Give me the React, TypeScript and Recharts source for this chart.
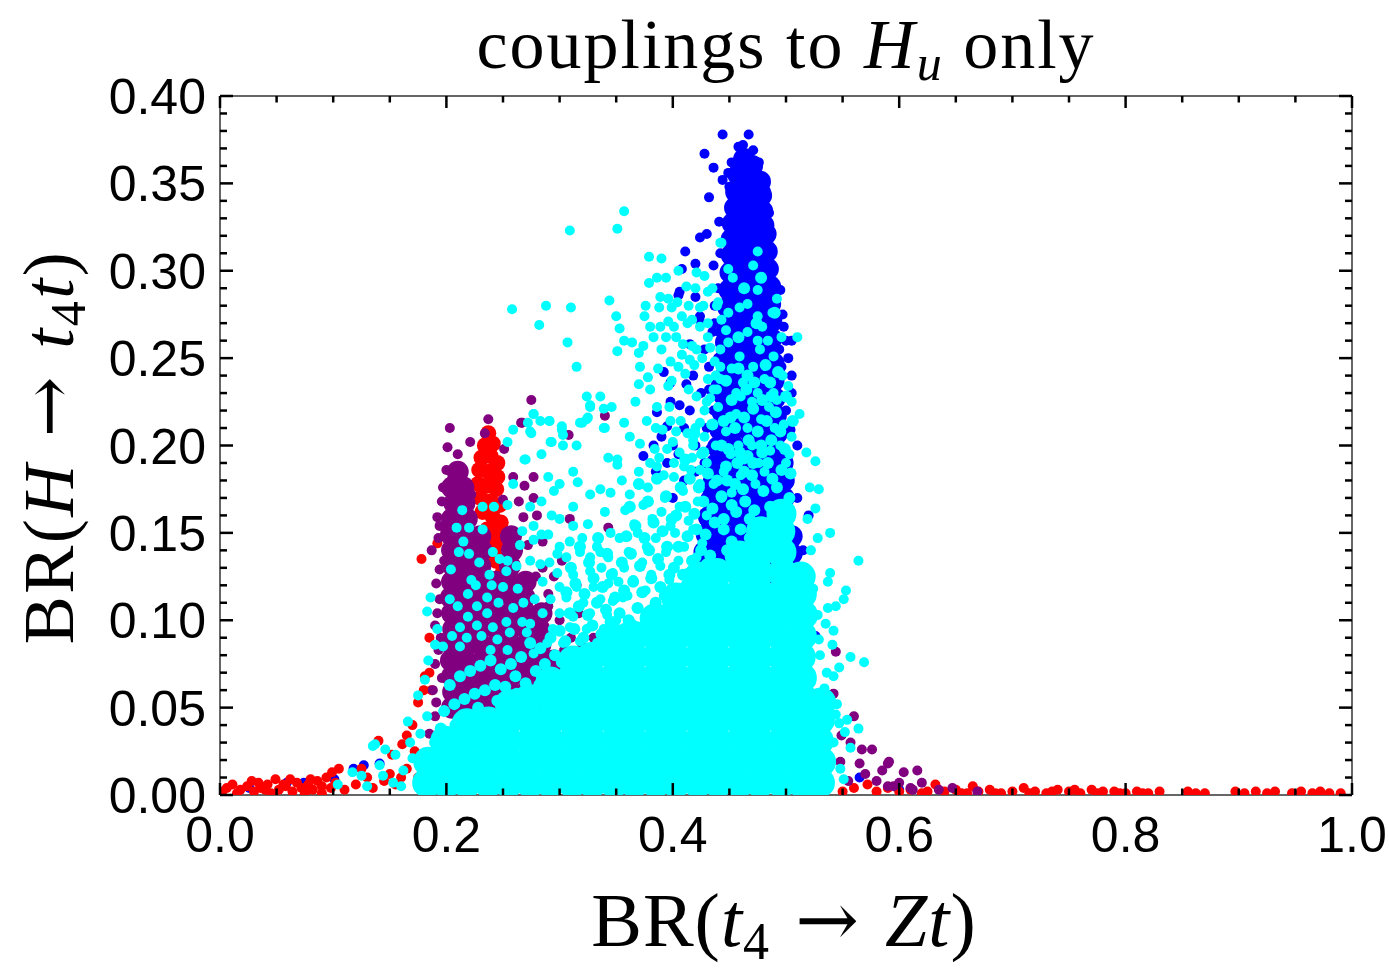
import React from 'react';
import { ScatterChart, Scatter, XAxis, YAxis } from 'recharts';

// tick values and labels
const xTicks = [0, 0.05, 0.1, 0.15, 0.2, 0.25, 0.3, 0.35, 0.4, 0.45, 0.5, 0.55, 0.6, 0.65, 0.7, 0.75, 0.8, 0.85, 0.9, 0.95, 1];
const xMajor = [0, 0.2, 0.4, 0.6, 0.8, 1];
const xLabels = ['0.0', '0.2', '0.4', '0.6', '0.8', '1.0'];
const yTicks = [
  0, 0.01, 0.02, 0.03, 0.04, 0.05, 0.06, 0.07, 0.08, 0.09, 0.1, 0.11, 0.12, 0.13, 0.14, 0.15, 0.16, 0.17, 0.18, 0.19, 0.2,
  0.21, 0.22, 0.23, 0.24, 0.25, 0.26, 0.27, 0.28, 0.29, 0.3, 0.31, 0.32, 0.33, 0.34, 0.35, 0.36, 0.37, 0.38, 0.39, 0.4,
];
const yMajor = [0, 0.05, 0.1, 0.15, 0.2, 0.25, 0.3, 0.35, 0.4];
const yLabels = ['0.00', '0.05', '0.10', '0.15', '0.20', '0.25', '0.30', '0.35', '0.40'];

// blue points: dense peak near 0.46 and scattered ones
const blueCore = [
  [0.463, 0.364], [0.47, 0.36],
  [0.458, 0.355], [0.469, 0.353], [0.477, 0.351],
  [0.456, 0.345], [0.467, 0.346], [0.478, 0.343],
  [0.455, 0.336], [0.466, 0.337], [0.479, 0.334],
  [0.453, 0.327], [0.466, 0.328], [0.48, 0.326],
  [0.452, 0.318], [0.465, 0.319], [0.478, 0.317], [0.482, 0.321],
  [0.452, 0.309], [0.465, 0.31], [0.478, 0.308], [0.483, 0.311],
  [0.451, 0.299], [0.464, 0.3], [0.477, 0.298], [0.484, 0.301],
  [0.45, 0.289], [0.463, 0.29], [0.476, 0.288], [0.486, 0.291],
  [0.449, 0.279], [0.462, 0.28], [0.475, 0.278], [0.486, 0.281],
  [0.448, 0.269], [0.461, 0.27], [0.474, 0.268], [0.487, 0.271],
  [0.447, 0.259], [0.46, 0.26], [0.473, 0.258], [0.487, 0.261],
  [0.446, 0.249], [0.459, 0.25], [0.472, 0.248], [0.485, 0.251], [0.489, 0.247],
  [0.446, 0.239], [0.459, 0.24], [0.472, 0.238], [0.485, 0.241], [0.489, 0.237],
  [0.445, 0.229], [0.458, 0.23], [0.471, 0.228], [0.484, 0.231], [0.49, 0.227],
  [0.444, 0.219], [0.457, 0.22], [0.47, 0.218], [0.483, 0.221], [0.491, 0.217],
  [0.442, 0.209], [0.455, 0.21], [0.468, 0.208], [0.481, 0.211], [0.492, 0.207],
  [0.44, 0.199], [0.453, 0.2], [0.466, 0.198], [0.479, 0.201], [0.492, 0.197],
  [0.438, 0.189], [0.451, 0.19], [0.464, 0.188], [0.477, 0.191], [0.49, 0.187], [0.497, 0.19],
  [0.436, 0.179], [0.449, 0.18], [0.462, 0.178], [0.475, 0.181], [0.488, 0.177], [0.498, 0.18],
  [0.434, 0.169], [0.447, 0.17], [0.46, 0.168], [0.473, 0.171], [0.486, 0.167], [0.498, 0.17],
  [0.432, 0.159], [0.445, 0.16], [0.458, 0.158], [0.471, 0.161], [0.484, 0.157], [0.497, 0.16],
  [0.43, 0.149], [0.443, 0.15], [0.456, 0.148], [0.469, 0.151], [0.482, 0.147], [0.495, 0.15], [0.505, 0.148],
  [0.428, 0.139], [0.441, 0.14], [0.454, 0.138], [0.467, 0.141], [0.48, 0.137], [0.493, 0.14], [0.505, 0.138],
  [0.43, 0.129], [0.445, 0.13], [0.46, 0.128], [0.475, 0.131], [0.49, 0.127], [0.505, 0.129],
];
const blueSparse = [
  [0.444, 0.378], [0.467, 0.378], [0.428, 0.367], [0.436, 0.359], [0.432, 0.342], [0.424, 0.319], [0.43, 0.321],
  [0.411, 0.311], [0.408, 0.301], [0.42, 0.304], [0.406, 0.288], [0.42, 0.285], [0.441, 0.328], [0.444, 0.352],
  [0.45, 0.348], [0.458, 0.371], [0.479, 0.353], [0.485, 0.333], [0.495, 0.289], [0.498, 0.268], [0.505, 0.24],
  [0.398, 0.236], [0.415, 0.258], [0.436, 0.303], [0.405, 0.286], [0.392, 0.242], [0.398, 0.225], [0.406, 0.223],
  [0.386, 0.219], [0.395, 0.211], [0.383, 0.2], [0.374, 0.194], [0.418, 0.24], [0.424, 0.274],
  [0.4, 0.2], [0.41, 0.21], [0.405, 0.195], [0.415, 0.22], [0.42, 0.2], [0.425, 0.23], [0.43, 0.21], [0.432, 0.245],
  [0.428, 0.255], [0.435, 0.265], [0.425, 0.27], [0.437, 0.28], [0.412, 0.235], [0.39, 0.205], [0.395, 0.19],
  [0.385, 0.185], [0.42, 0.185], [0.41, 0.18], [0.4, 0.17], [0.43, 0.175], [0.44, 0.29], [0.442, 0.31],
  [0.462, 0.372], [0.471, 0.369], [0.452, 0.362], [0.476, 0.362], [0.449, 0.356], [0.482, 0.346],
  [0.436, 0.22], [0.438, 0.235], [0.44, 0.25], [0.441, 0.265], [0.437, 0.27], [0.432, 0.232], [0.428, 0.19],
  [0.433, 0.198], [0.494, 0.255], [0.496, 0.245], [0.5, 0.26], [0.497, 0.275], [0.502, 0.25], [0.505, 0.26],
  [0.5, 0.21], [0.504, 0.209], [0.51, 0.17], [0.515, 0.14], [0.52, 0.12], [0.526, 0.091], [0.518, 0.1],
  [0.505, 0.23], [0.51, 0.2], [0.52, 0.16], [0.5, 0.22],
  [0.026, 0.004], [0.059, 0.007], [0.074, 0.007], [0.101, 0.009], [0.118, 0.015], [0.127, 0.017], [0.141, 0.018],
  [0.565, 0.01], [0.6, 0.003],
];

// red points: narrow spike near 0.24 and a strip along the bottom
const redCore = [
  [0.237, 0.207], [0.234, 0.2], [0.241, 0.201], [0.231, 0.193], [0.239, 0.194], [0.245, 0.19], [0.229, 0.186],
  [0.237, 0.185], [0.245, 0.182], [0.228, 0.178], [0.236, 0.177], [0.244, 0.175], [0.23, 0.17], [0.239, 0.168],
  [0.247, 0.166], [0.232, 0.162], [0.241, 0.159], [0.248, 0.156], [0.236, 0.152], [0.245, 0.149], [0.24, 0.143],
  [0.249, 0.141], [0.244, 0.134], [0.25, 0.128], [0.234, 0.145],
];
const redSparse = [
  [0.006, 0.004], [0.011, 0.006], [0.018, 0.003], [0.024, 0.005], [0.03, 0.002], [0.036, 0.004], [0.042, 0.006],
  [0.049, 0.009], [0.052, 0.003], [0.058, 0.005], [0.064, 0.002], [0.068, 0.007], [0.072, 0.004], [0.078, 0.006],
  [0.082, 0.003], [0.086, 0.008], [0.09, 0.005], [0.094, 0.01], [0.098, 0.004], [0.102, 0.007], [0.028, 0.008],
  [0.015, 0.001], [0.045, 0.001], [0.075, 0.001], [0.062, 0.009], [0.04, 0.003], [0.09, 0.001], [0.11, 0.003],
  [0.099, 0.013], [0.105, 0.015], [0.12, 0.006], [0.13, 0.01], [0.14, 0.031], [0.152, 0.023], [0.161, 0.029],
  [0.165, 0.034], [0.17, 0.04], [0.175, 0.053], [0.18, 0.06], [0.187, 0.06], [0.181, 0.068], [0.178, 0.135],
  [0.192, 0.144], [0.165, 0.015], [0.15, 0.012], [0.172, 0.025], [0.185, 0.07], [0.185, 0.09], [0.183, 0.02],
  [0.125, 0.015], [0.135, 0.004], [0.155, 0.006], [0.145, 0.008], [0.16, 0.01], [0.175, 0.01], [0.002, 0.002],
  [0.034, 0.007], [0.056, 0.006], [0.08, 0.009],
  [0.55, 0.002], [0.56, 0.004], [0.572, 0.006], [0.58, 0.002], [0.59, 0.004], [0.6, 0.002], [0.61, 0.003],
  [0.62, 0.001], [0.632, 0.006], [0.64, 0.002], [0.65, 0.003], [0.66, 0.001], [0.665, 0.005], [0.67, 0.002],
  [0.68, 0.003], [0.69, 0.001], [0.7, 0.002], [0.71, 0.004], [0.72, 0.002], [0.73, 0.001], [0.74, 0.003],
  [0.75, 0.002], [0.76, 0.001], [0.77, 0.003], [0.78, 0.002], [0.79, 0.002], [0.8, 0.001], [0.81, 0.002],
  [0.82, 0.001], [0.83, 0.002], [0.855, 0.002], [0.87, 0.001], [0.897, 0.002], [0.905, 0.001], [0.915, 0.002],
  [0.925, 0.001], [0.932, 0.002], [0.947, 0.001], [0.955, 0.002], [0.965, 0.001], [0.972, 0.002], [0.98, 0.001],
  [0.99, 0.001], [0.715, 0.001], [0.735, 0.002], [0.755, 0.003], [0.775, 0.001], [0.795, 0.001], [0.815, 0.001],
  [0.685, 0.001], [0.655, 0.001], [0.625, 0.002], [0.862, 0.001],
];

// purple points: peak near 0.21 and a tail past 0.55
const purpleCore = [
  [0.205, 0.05], [0.206, 0.059], [0.205, 0.068], [0.204, 0.077], [0.205, 0.086], [0.206, 0.095], [0.205, 0.104],
  [0.204, 0.113], [0.205, 0.122], [0.206, 0.131], [0.205, 0.14], [0.204, 0.149], [0.205, 0.158], [0.207, 0.167],
  [0.205, 0.176], [0.21, 0.185],
  [0.218, 0.05], [0.219, 0.059], [0.218, 0.068], [0.217, 0.077], [0.218, 0.086], [0.219, 0.095], [0.218, 0.104],
  [0.217, 0.113], [0.218, 0.122], [0.219, 0.131], [0.218, 0.14], [0.217, 0.149], [0.218, 0.158], [0.216, 0.167],
  [0.215, 0.176],
  [0.231, 0.05], [0.23, 0.059], [0.231, 0.068], [0.232, 0.077], [0.231, 0.086], [0.23, 0.095], [0.231, 0.104],
  [0.232, 0.113], [0.231, 0.122], [0.23, 0.131], [0.231, 0.14], [0.23, 0.148],
  [0.244, 0.05], [0.245, 0.059], [0.244, 0.068], [0.243, 0.077], [0.244, 0.086], [0.245, 0.095], [0.244, 0.104],
  [0.243, 0.113], [0.244, 0.122],
  [0.257, 0.05], [0.256, 0.059], [0.257, 0.068], [0.258, 0.077], [0.257, 0.086], [0.256, 0.095], [0.257, 0.104],
  [0.258, 0.113], [0.257, 0.122], [0.256, 0.131], [0.258, 0.14], [0.257, 0.148],
  [0.27, 0.05], [0.271, 0.059], [0.27, 0.068], [0.269, 0.077], [0.27, 0.086], [0.271, 0.095], [0.27, 0.104],
  [0.269, 0.113], [0.27, 0.122],
  [0.283, 0.05], [0.282, 0.059], [0.283, 0.068], [0.284, 0.077], [0.283, 0.086], [0.282, 0.095], [0.284, 0.104],
  [0.296, 0.05], [0.297, 0.059], [0.296, 0.068], [0.295, 0.077],
];
const purpleSparse = [
  [0.203, 0.21], [0.201, 0.199], [0.221, 0.202], [0.237, 0.215], [0.234, 0.207], [0.21, 0.195], [0.2, 0.186],
  [0.212, 0.186], [0.205, 0.181], [0.197, 0.176], [0.215, 0.178], [0.267, 0.213], [0.251, 0.198], [0.259, 0.182],
  [0.277, 0.182], [0.269, 0.177], [0.277, 0.17], [0.25, 0.169], [0.268, 0.159], [0.192, 0.159], [0.194, 0.154],
  [0.187, 0.14], [0.194, 0.129], [0.194, 0.112], [0.192, 0.104], [0.308, 0.206], [0.34, 0.217], [0.309, 0.158],
  [0.343, 0.153], [0.317, 0.104], [0.302, 0.134], [0.275, 0.226], [0.266, 0.213], [0.285, 0.13], [0.29, 0.115],
  [0.3, 0.1], [0.31, 0.09], [0.32, 0.085], [0.33, 0.09], [0.285, 0.145], [0.28, 0.16], [0.295, 0.125],
  [0.315, 0.12], [0.325, 0.075], [0.34, 0.07], [0.36, 0.065], [0.38, 0.08], [0.195, 0.09], [0.19, 0.075],
  [0.188, 0.06], [0.19, 0.045], [0.185, 0.035], [0.196, 0.168], [0.193, 0.147], [0.191, 0.121], [0.19, 0.097],
  [0.193, 0.083], [0.196, 0.067], [0.191, 0.053], [0.198, 0.134], [0.222, 0.172], [0.211, 0.176], [0.264, 0.168],
  [0.272, 0.143], [0.279, 0.125], [0.29, 0.108], [0.304, 0.083],
  [0.544, 0.082], [0.542, 0.058], [0.56, 0.045], [0.567, 0.026], [0.576, 0.026], [0.591, 0.019], [0.604, 0.013],
  [0.616, 0.014], [0.557, 0.03], [0.549, 0.034], [0.548, 0.019], [0.62, 0.007], [0.647, 0.004], [0.57, 0.012],
  [0.58, 0.008], [0.59, 0.005], [0.6, 0.007], [0.555, 0.008], [0.61, 0.004], [0.635, 0.003], [0.565, 0.018],
  [0.585, 0.014], [0.59, 0.018], [0.595, 0.005], [0.612, 0.003], [0.669, 0.002], [0.522, 0.05], [0.525, 0.04],
  [0.52, 0.016],
];

// cyan points: the wide dense body, the band just above it, and the scattered ones
const cyanCore = [
  [0.183, 0.007], [0.184, 0.019],
  [0.2, 0.007], [0.201, 0.019], [0.199, 0.031],
  [0.218, 0.007], [0.219, 0.019], [0.217, 0.031], [0.218, 0.041],
  [0.237, 0.007], [0.236, 0.019], [0.238, 0.031], [0.237, 0.042],
  [0.255, 0.007], [0.256, 0.019], [0.254, 0.031], [0.255, 0.043], [0.256, 0.052],
  [0.274, 0.007], [0.273, 0.019], [0.275, 0.031], [0.274, 0.043], [0.273, 0.055],
  [0.292, 0.007], [0.293, 0.019], [0.291, 0.031], [0.292, 0.043], [0.293, 0.055], [0.292, 0.065],
  [0.311, 0.007], [0.31, 0.019], [0.312, 0.031], [0.311, 0.043], [0.31, 0.055], [0.311, 0.067], [0.312, 0.077],
  [0.329, 0.007], [0.33, 0.019], [0.328, 0.031], [0.329, 0.043], [0.33, 0.055], [0.329, 0.067], [0.328, 0.079],
  [0.348, 0.007], [0.347, 0.019], [0.349, 0.031], [0.348, 0.043], [0.347, 0.055], [0.348, 0.067], [0.349, 0.079],
  [0.348, 0.089],
  [0.366, 0.007], [0.367, 0.019], [0.365, 0.031], [0.366, 0.043], [0.367, 0.055], [0.366, 0.067], [0.365, 0.079],
  [0.366, 0.091],
  [0.385, 0.007], [0.384, 0.019], [0.386, 0.031], [0.385, 0.043], [0.384, 0.055], [0.385, 0.067], [0.386, 0.079],
  [0.385, 0.091], [0.384, 0.101],
  [0.403, 0.007], [0.404, 0.019], [0.402, 0.031], [0.403, 0.043], [0.404, 0.055], [0.403, 0.067], [0.402, 0.079],
  [0.403, 0.091], [0.404, 0.103], [0.403, 0.113],
  [0.422, 0.007], [0.421, 0.019], [0.423, 0.031], [0.422, 0.043], [0.421, 0.055], [0.422, 0.067], [0.423, 0.079],
  [0.422, 0.091], [0.421, 0.103], [0.422, 0.115], [0.423, 0.125],
  [0.44, 0.007], [0.441, 0.019], [0.439, 0.031], [0.44, 0.043], [0.441, 0.055], [0.44, 0.067], [0.439, 0.079],
  [0.44, 0.091], [0.441, 0.103], [0.44, 0.115], [0.439, 0.127],
  [0.459, 0.007], [0.458, 0.019], [0.46, 0.031], [0.459, 0.043], [0.458, 0.055], [0.459, 0.067], [0.46, 0.079],
  [0.459, 0.091], [0.458, 0.103], [0.459, 0.115], [0.46, 0.127], [0.459, 0.137],
  [0.477, 0.007], [0.478, 0.019], [0.476, 0.031], [0.477, 0.043], [0.478, 0.055], [0.477, 0.067], [0.476, 0.079],
  [0.477, 0.091], [0.478, 0.103], [0.477, 0.115], [0.476, 0.127], [0.477, 0.139], [0.478, 0.151],
  [0.496, 0.007], [0.495, 0.019], [0.497, 0.031], [0.496, 0.043], [0.495, 0.055], [0.496, 0.067], [0.497, 0.079],
  [0.496, 0.091], [0.495, 0.103], [0.496, 0.115], [0.497, 0.127], [0.496, 0.139], [0.495, 0.151], [0.496, 0.161],
  [0.514, 0.007], [0.515, 0.019], [0.513, 0.031], [0.514, 0.043], [0.515, 0.055], [0.514, 0.067], [0.513, 0.079],
  [0.514, 0.091], [0.515, 0.103], [0.514, 0.115], [0.513, 0.125],
  [0.53, 0.007], [0.531, 0.019], [0.529, 0.031], [0.53, 0.043], [0.531, 0.053],
];
const cyanBand = [
  [0.198, 0.048], [0.207, 0.052], [0.216, 0.055], [0.225, 0.058], [0.234, 0.06], [0.243, 0.063], [0.203, 0.063],
  [0.212, 0.068], [0.221, 0.071], [0.23, 0.074], [0.239, 0.077], [0.248, 0.072], [0.195, 0.038], [0.19, 0.03],
  [0.208, 0.04], [0.228, 0.05], [0.245, 0.054],
  [0.252, 0.062], [0.261, 0.068], [0.27, 0.064], [0.279, 0.071], [0.287, 0.075], [0.296, 0.08], [0.257, 0.075],
  [0.266, 0.079], [0.283, 0.084], [0.292, 0.09], [0.3, 0.094], [0.274, 0.087], [0.262, 0.058], [0.282, 0.063],
  [0.305, 0.088], [0.313, 0.095], [0.321, 0.09], [0.329, 0.097], [0.337, 0.092], [0.345, 0.099], [0.309, 0.104],
  [0.317, 0.108], [0.325, 0.103], [0.333, 0.11], [0.341, 0.106], [0.349, 0.113], [0.306, 0.116], [0.314, 0.121],
  [0.322, 0.115], [0.33, 0.124], [0.338, 0.119], [0.346, 0.126], [0.31, 0.13], [0.326, 0.133], [0.342, 0.138],
  [0.318, 0.142], [0.334, 0.147], [0.302, 0.076], [0.32, 0.081], [0.338, 0.085],
  [0.353, 0.104], [0.361, 0.1], [0.369, 0.107], [0.377, 0.103], [0.385, 0.11], [0.393, 0.106], [0.357, 0.117],
  [0.365, 0.122], [0.373, 0.116], [0.381, 0.124], [0.389, 0.119], [0.397, 0.126], [0.355, 0.133], [0.363, 0.138],
  [0.371, 0.131], [0.379, 0.14], [0.387, 0.135], [0.395, 0.142], [0.359, 0.148], [0.367, 0.154], [0.375, 0.147],
  [0.383, 0.156], [0.391, 0.151], [0.399, 0.158], [0.362, 0.165], [0.378, 0.168], [0.394, 0.171], [0.37, 0.178],
  [0.386, 0.181], [0.357, 0.095], [0.375, 0.096], [0.393, 0.099],
  [0.401, 0.13], [0.409, 0.126], [0.417, 0.134], [0.425, 0.14], [0.433, 0.137], [0.405, 0.142], [0.413, 0.148],
  [0.421, 0.152], [0.429, 0.149], [0.437, 0.156], [0.445, 0.152], [0.403, 0.16], [0.411, 0.165], [0.419, 0.161],
  [0.427, 0.168], [0.435, 0.164], [0.443, 0.171], [0.407, 0.176], [0.415, 0.181], [0.423, 0.176], [0.431, 0.184],
  [0.439, 0.18], [0.447, 0.188], [0.411, 0.192], [0.427, 0.196], [0.443, 0.2], [0.419, 0.207], [0.435, 0.212],
  [0.451, 0.216], [0.412, 0.12], [0.43, 0.132], [0.448, 0.14],
  [0.452, 0.145], [0.46, 0.152], [0.468, 0.147], [0.456, 0.162], [0.464, 0.168], [0.472, 0.163], [0.48, 0.174],
  [0.488, 0.181], [0.496, 0.186], [0.504, 0.184], [0.455, 0.178], [0.463, 0.185], [0.471, 0.19], [0.479, 0.196],
  [0.487, 0.203], [0.495, 0.208], [0.459, 0.196], [0.467, 0.203], [0.475, 0.208], [0.483, 0.214], [0.491, 0.219],
  [0.455, 0.21], [0.463, 0.216], [0.471, 0.221], [0.466, 0.24], [0.482, 0.246], [0.458, 0.262], [0.474, 0.27],
  [0.49, 0.276], [0.463, 0.29], [0.478, 0.296], [0.486, 0.165], [0.503, 0.17], [0.468, 0.158], [0.487, 0.228],
  [0.445, 0.158], [0.452, 0.166], [0.448, 0.18], [0.457, 0.19], [0.449, 0.198], [0.445, 0.214], [0.452, 0.226],
  [0.447, 0.237], [0.458, 0.244], [0.465, 0.232], [0.472, 0.236], [0.479, 0.226], [0.486, 0.236], [0.493, 0.242],
  [0.484, 0.19], [0.492, 0.176], [0.499, 0.198], [0.506, 0.214], [0.5, 0.228], [0.494, 0.165], [0.474, 0.155],
  [0.462, 0.175], [0.47, 0.183], [0.478, 0.2], [0.466, 0.194],
];
const cyanSparse = [
  // top scatter
  [0.357, 0.334], [0.309, 0.323], [0.351, 0.324], [0.379, 0.308], [0.39, 0.307], [0.379, 0.293], [0.258, 0.278],
  [0.288, 0.28], [0.31, 0.279], [0.282, 0.269], [0.344, 0.283], [0.35, 0.274], [0.353, 0.267], [0.307, 0.259],
  [0.357, 0.26], [0.364, 0.259], [0.351, 0.254], [0.374, 0.257], [0.37, 0.253], [0.315, 0.245], [0.389, 0.285],
  [0.396, 0.284], [0.376, 0.28], [0.388, 0.279], [0.399, 0.279], [0.375, 0.274], [0.38, 0.268], [0.389, 0.268],
  [0.396, 0.271], [0.412, 0.291], [0.421, 0.299], [0.408, 0.274], [0.413, 0.27], [0.403, 0.262], [0.409, 0.258],
  [0.417, 0.257], [0.408, 0.252], [0.415, 0.249], [0.398, 0.248], [0.371, 0.245], [0.387, 0.244], [0.378, 0.239],
  [0.37, 0.235], [0.38, 0.232], [0.396, 0.234], [0.399, 0.237], [0.367, 0.225], [0.386, 0.222], [0.397, 0.222],
  [0.324, 0.228], [0.327, 0.223], [0.336, 0.228], [0.346, 0.222], [0.339, 0.221], [0.318, 0.213], [0.324, 0.215],
  [0.357, 0.213], [0.339, 0.21], [0.277, 0.218], [0.272, 0.213], [0.291, 0.214], [0.259, 0.209], [0.275, 0.207],
  [0.302, 0.211], [0.303, 0.206], [0.292, 0.202], [0.303, 0.2], [0.315, 0.2], [0.254, 0.202], [0.284, 0.195],
  [0.269, 0.192], [0.343, 0.193], [0.351, 0.189], [0.362, 0.205], [0.371, 0.201], [0.384, 0.198], [0.391, 0.209],
  [0.4, 0.202], [0.406, 0.196], [0.418, 0.203], [0.424, 0.213], [0.43, 0.225], [0.436, 0.232], [0.442, 0.245],
  [0.449, 0.259], [0.443, 0.316], [0.449, 0.301], [0.44, 0.282], [0.449, 0.276],
  // left of the blue peak
  [0.383, 0.262], [0.39, 0.255], [0.394, 0.262], [0.401, 0.268], [0.405, 0.245], [0.411, 0.241], [0.419, 0.246],
  [0.426, 0.25], [0.433, 0.256], [0.437, 0.248], [0.414, 0.232], [0.421, 0.228], [0.428, 0.22], [0.433, 0.227],
  [0.407, 0.214], [0.413, 0.207], [0.403, 0.208], [0.395, 0.198], [0.388, 0.193], [0.41, 0.188], [0.417, 0.193],
  [0.424, 0.186], [0.401, 0.19], [0.392, 0.183], [0.38, 0.19], [0.414, 0.28], [0.42, 0.29], [0.428, 0.297],
  [0.435, 0.29], [0.427, 0.28], [0.417, 0.272], [0.404, 0.282], [0.394, 0.296], [0.386, 0.296], [0.405, 0.3],
  [0.438, 0.24], [0.431, 0.238], [0.398, 0.214], [0.385, 0.21], [0.377, 0.214],
  // over the blue peak
  [0.442, 0.316], [0.475, 0.311], [0.471, 0.303], [0.453, 0.296], [0.475, 0.289], [0.492, 0.284], [0.466, 0.281],
  [0.459, 0.279], [0.488, 0.276], [0.475, 0.274], [0.479, 0.268], [0.466, 0.265], [0.447, 0.266], [0.496, 0.262],
  [0.51, 0.262], [0.475, 0.26], [0.484, 0.26], [0.459, 0.251], [0.477, 0.255], [0.489, 0.251], [0.471, 0.245],
  [0.452, 0.244], [0.497, 0.24], [0.481, 0.238], [0.462, 0.236], [0.442, 0.238], [0.502, 0.234], [0.489, 0.23],
  [0.475, 0.23], [0.456, 0.23], [0.439, 0.232], [0.505, 0.225], [0.512, 0.218], [0.431, 0.288], [0.424, 0.279],
  [0.439, 0.28], [0.431, 0.27], [0.443, 0.272], [0.424, 0.268], [0.431, 0.262], [0.442, 0.255], [0.421, 0.255],
  [0.43, 0.19], [0.438, 0.2], [0.434, 0.212], [0.44, 0.222], [0.428, 0.205], [0.445, 0.185], [0.451, 0.195],
  [0.447, 0.208], [0.456, 0.218], [0.452, 0.173], [0.46, 0.183], [0.458, 0.2], [0.466, 0.21], [0.463, 0.192],
  [0.47, 0.2], [0.476, 0.19], [0.473, 0.178], [0.481, 0.185], [0.486, 0.197], [0.49, 0.21], [0.495, 0.2],
  [0.5, 0.19], [0.498, 0.212], [0.505, 0.205], [0.503, 0.195], [0.485, 0.222], [0.47, 0.225], [0.478, 0.215],
  [0.492, 0.226], [0.46, 0.228], [0.443, 0.17], [0.436, 0.178], [0.425, 0.195], [0.418, 0.2], [0.42, 0.21],
  // over the purple peak
  [0.209, 0.153], [0.22, 0.153], [0.232, 0.152], [0.242, 0.165], [0.211, 0.139], [0.22, 0.138], [0.241, 0.139],
  [0.247, 0.135], [0.254, 0.134], [0.253, 0.128], [0.262, 0.131], [0.238, 0.126], [0.222, 0.123], [0.226, 0.12],
  [0.24, 0.12], [0.25, 0.119], [0.203, 0.112], [0.186, 0.113], [0.183, 0.105], [0.21, 0.108], [0.219, 0.115],
  [0.236, 0.113], [0.227, 0.108], [0.246, 0.11], [0.259, 0.107], [0.268, 0.11], [0.219, 0.102], [0.236, 0.104],
  [0.212, 0.096], [0.227, 0.097], [0.241, 0.096], [0.253, 0.099], [0.267, 0.099], [0.274, 0.098], [0.192, 0.095],
  [0.205, 0.091], [0.218, 0.09], [0.231, 0.091], [0.245, 0.089], [0.256, 0.093], [0.271, 0.093], [0.197, 0.085],
  [0.212, 0.085], [0.239, 0.083], [0.254, 0.083], [0.277, 0.081], [0.204, 0.129], [0.215, 0.145], [0.229, 0.133],
  [0.263, 0.118], [0.278, 0.112], [0.232, 0.165], [0.214, 0.163], [0.265, 0.143],
  // between the two peaks
  [0.277, 0.218], [0.283, 0.214], [0.291, 0.214], [0.274, 0.208], [0.293, 0.202], [0.302, 0.209], [0.27, 0.192],
  [0.327, 0.222], [0.32, 0.213], [0.325, 0.216], [0.34, 0.21], [0.351, 0.192], [0.29, 0.182], [0.312, 0.185],
  [0.316, 0.179], [0.3, 0.178], [0.295, 0.174], [0.284, 0.168], [0.274, 0.165], [0.254, 0.166], [0.259, 0.178],
  [0.336, 0.175], [0.345, 0.173], [0.327, 0.172], [0.312, 0.165], [0.293, 0.16], [0.3, 0.158], [0.312, 0.154],
  [0.325, 0.155], [0.34, 0.162], [0.345, 0.15], [0.277, 0.154], [0.267, 0.151], [0.277, 0.146], [0.284, 0.149],
  [0.29, 0.149], [0.3, 0.142], [0.309, 0.145], [0.32, 0.147], [0.333, 0.142], [0.343, 0.136], [0.298, 0.138],
  [0.291, 0.133], [0.306, 0.136], [0.318, 0.139], [0.327, 0.136], [0.336, 0.139], [0.274, 0.134], [0.283, 0.132],
  [0.298, 0.127], [0.312, 0.126], [0.327, 0.128], [0.337, 0.13], [0.347, 0.127], [0.285, 0.122], [0.3, 0.119],
  [0.315, 0.119], [0.33, 0.119], [0.343, 0.121], [0.292, 0.112], [0.306, 0.113], [0.321, 0.11], [0.336, 0.112],
  [0.347, 0.111], [0.285, 0.104], [0.3, 0.104], [0.312, 0.102], [0.327, 0.104], [0.342, 0.103], [0.294, 0.095],
  [0.309, 0.096], [0.324, 0.095], [0.339, 0.095], [0.351, 0.095], [0.289, 0.087], [0.303, 0.087], [0.318, 0.088],
  [0.333, 0.087], [0.347, 0.086],
  [0.355, 0.18], [0.362, 0.172], [0.37, 0.185], [0.378, 0.176], [0.386, 0.188], [0.393, 0.17], [0.401, 0.182],
  [0.409, 0.174], [0.416, 0.186], [0.424, 0.178], [0.358, 0.163], [0.366, 0.155], [0.374, 0.166], [0.382, 0.158],
  [0.39, 0.162], [0.398, 0.154], [0.406, 0.165], [0.414, 0.157], [0.422, 0.168], [0.43, 0.16], [0.353, 0.147],
  [0.361, 0.139], [0.369, 0.15], [0.377, 0.142], [0.385, 0.147], [0.394, 0.139], [0.402, 0.15], [0.41, 0.142],
  [0.418, 0.152], [0.426, 0.144], [0.357, 0.13], [0.365, 0.123], [0.373, 0.133], [0.381, 0.126], [0.389, 0.131],
  [0.397, 0.123], [0.405, 0.134], [0.413, 0.127], [0.421, 0.136], [0.36, 0.114], [0.368, 0.107], [0.376, 0.117],
  [0.384, 0.11], [0.392, 0.114], [0.35, 0.1], [0.364, 0.098], [0.379, 0.102], [0.352, 0.122], [0.356, 0.113],
  // right edge
  [0.518, 0.196], [0.526, 0.191], [0.521, 0.176], [0.529, 0.175], [0.526, 0.164], [0.539, 0.15], [0.528, 0.147],
  [0.519, 0.158], [0.564, 0.134], [0.539, 0.127], [0.537, 0.122], [0.553, 0.117], [0.551, 0.112], [0.544, 0.108],
  [0.537, 0.107], [0.528, 0.103], [0.535, 0.098], [0.542, 0.094], [0.529, 0.089], [0.541, 0.086], [0.557, 0.079],
  [0.569, 0.076], [0.547, 0.073], [0.542, 0.068], [0.534, 0.061], [0.545, 0.052], [0.544, 0.046], [0.547, 0.041],
  [0.554, 0.043], [0.564, 0.038], [0.552, 0.036], [0.542, 0.03], [0.557, 0.027], [0.548, 0.015], [0.551, 0.009],
  [0.522, 0.14], [0.524, 0.118], [0.53, 0.08], [0.536, 0.07],
  // left edge
  [0.166, 0.042], [0.177, 0.035], [0.183, 0.045], [0.135, 0.028], [0.146, 0.026], [0.155, 0.023], [0.117, 0.013],
  [0.125, 0.011], [0.104, 0.006], [0.141, 0.017], [0.144, 0.011], [0.153, 0.007], [0.162, 0.014], [0.17, 0.021],
  [0.168, 0.03], [0.137, 0.029], [0.181, 0.066], [0.175, 0.057], [0.184, 0.077], [0.19, 0.086], [0.16, 0.005],
  [0.13, 0.005],
];

const RED = '#ff0000';
const PURPLE = '#800080';
const BLUE = '#0000ff';
const CYAN = '#00ffff';
const SANS = '"Liberation Sans", Arial, sans-serif';
const SERIF = '"Liberation Serif", "Times New Roman", serif';
const ARROW = '"DejaVu Serif", serif';

const toPts = (a: number[][]) => a.map(([x, y]) => ({ x, y }));
const dot = (r: number, fill: string) => (p: any) => <circle cx={p.cx} cy={p.cy} r={r} fill={fill} />;
const majorIndex = (v: number, majors: number[]) => majors.findIndex((m) => Math.abs(m - v) < 1e-6);

const TICK = { stroke: '#000', strokeWidth: 2.5 };

function BottomTick(props: any) {
  const { x, y, payload } = props;
  const i = majorIndex(payload.value, xMajor);
  return (
    <g>
      <line x1={x} y1={y} x2={x} y2={y - (i >= 0 ? 12 : 6.5)} {...TICK} />
      {i >= 0 && (
        <text x={x} y={y + 57} textAnchor="middle" fontFamily={SANS} fontSize={50} fill="#000">
          {xLabels[i]}
        </text>
      )}
    </g>
  );
}

function TopTick(props: any) {
  const { x, y, payload } = props;
  const i = majorIndex(payload.value, xMajor);
  return <line x1={x} y1={y} x2={x} y2={y + (i >= 0 ? 12 : 6.5)} {...TICK} />;
}

function LeftTick(props: any) {
  const { x, y, payload } = props;
  const i = majorIndex(payload.value, yMajor);
  return (
    <g>
      <line x1={x} y1={y} x2={x + (i >= 0 ? 13 : 7)} y2={y} {...TICK} />
      {i >= 0 && (
        <text x={x - 14} y={y + 18} textAnchor="end" fontFamily={SANS} fontSize={50} fill="#000">
          {yLabels[i]}
        </text>
      )}
    </g>
  );
}

function RightTick(props: any) {
  const { x, y, payload } = props;
  const i = majorIndex(payload.value, yMajor);
  return <line x1={x} y1={y} x2={x - (i >= 0 ? 13 : 7)} y2={y} {...TICK} />;
}

export default function App() {
  const frame = { stroke: '#666', strokeWidth: 2 };
  const series = [
    { data: blueSparse, r: 5, color: BLUE },
    { data: blueCore, r: 11, color: BLUE },
    { data: redSparse, r: 5, color: RED },
    { data: redCore, r: 8, color: RED },
    { data: purpleCore, r: 11, color: PURPLE },
    { data: purpleSparse, r: 5, color: PURPLE },
    { data: cyanCore, r: 15, color: CYAN },
    { data: cyanBand, r: 6, color: CYAN },
    { data: cyanSparse, r: 5, color: CYAN },
  ];

  return (
    <div style={{ position: 'relative', width: 1389, height: 975, background: '#fff' }}>
      <style>{'body{margin:0}'}</style>
      <ScatterChart width={1389} height={975} margin={{ top: 95, right: 36, bottom: 179, left: 219 }}>
        {series.map((s, k) => (
          <Scatter
            key={k}
            data={toPts(s.data)}
            xAxisId="b"
            yAxisId="l"
            shape={dot(s.r, s.color)}
            isAnimationActive={false}
          />
        ))}
        <XAxis xAxisId="b" type="number" dataKey="x" domain={[0, 1]} ticks={xTicks} interval={0} allowDataOverflow
          height={1} tickSize={0} tickMargin={0} tickLine={false} axisLine={frame} tick={(p: any) => <BottomTick {...p} />} />
        <XAxis xAxisId="t" orientation="top" type="number" dataKey="x" domain={[0, 1]} ticks={xTicks} interval={0}
          allowDataOverflow height={1} tickSize={0} tickMargin={0} tickLine={false} axisLine={frame}
          tick={(p: any) => <TopTick {...p} />} />
        <YAxis yAxisId="l" type="number" dataKey="y" domain={[0, 0.4]} ticks={yTicks} interval={0} allowDataOverflow
          width={1} tickSize={0} tickMargin={0} tickLine={false} axisLine={frame} tick={(p: any) => <LeftTick {...p} />} />
        <YAxis yAxisId="r" orientation="right" type="number" dataKey="y" domain={[0, 0.4]} ticks={yTicks} interval={0}
          allowDataOverflow width={1} tickSize={0} tickMargin={0} tickLine={false} axisLine={frame}
          tick={(p: any) => <RightTick {...p} />} />
      </ScatterChart>
      <svg width={1389} height={975} style={{ position: 'absolute', left: 0, top: 0, pointerEvents: 'none' }}>
        <text x={786} y={68} textAnchor="middle" fontFamily={SERIF} fontSize={70} letterSpacing={2} fill="#000">
          couplings to <tspan fontStyle="italic">H</tspan>
          <tspan fontStyle="italic" fontSize={50} dy={12}>u</tspan>
          <tspan dy={-12}> only</tspan>
        </text>
        <text x={784} y={946} textAnchor="middle" fontFamily={SERIF} fontSize={76} letterSpacing={1} fill="#000">
          BR(<tspan fontStyle="italic">t</tspan>
          <tspan fontSize={52} dy={13}>4</tspan>
          <tspan dy={-13} fontFamily={ARROW}> → </tspan>
          <tspan fontStyle="italic">Zt</tspan>)
        </text>
        <text transform="translate(73,447) rotate(-90)" x={0} y={0} textAnchor="middle" fontFamily={SERIF} fontSize={72}
          letterSpacing={2.5} fill="#000">
          BR(<tspan fontStyle="italic">H</tspan>
          <tspan fontFamily={ARROW}> → </tspan>
          <tspan fontStyle="italic">t</tspan>
          <tspan fontSize={50} dy={12}>4</tspan>
          <tspan dy={-12} fontStyle="italic">t</tspan>)
        </text>
      </svg>
    </div>
  );
}
